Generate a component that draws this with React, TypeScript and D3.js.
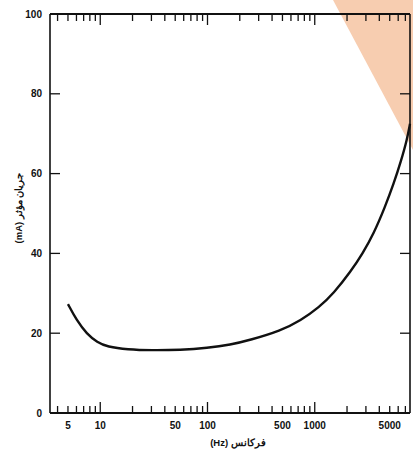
import React, { useEffect, useRef } from 'react';
import * as d3 from 'd3';

// frequency (Hz) and effective current (mA)
const freqs = [5, 6, 7.5, 9.4, 11.6, 18, 30, 56, 100, 164, 250, 480, 740, 1100, 1500, 2170, 2800, 3550, 4500, 5450, 6350, 7250, 7730];
const currents = [27.3, 23.3, 19.8, 17.7, 16.6, 15.9, 15.7, 15.8, 16.3, 17.1, 18.3, 20.6, 23.2, 26.5, 30, 35.5, 40, 45, 51.5, 57.5, 63, 68.5, 72.5];

const xLabels = [5, 10, 50, 100, 500, 1000, 5000];
const yLabels = [0, 20, 40, 60, 80, 100];

export default function App() {
  const ref = useRef<SVGSVGElement>(null);

  useEffect(() => {
    const svg = d3.select(ref.current);
    svg.selectAll('*').remove();

    const left = 50, right = 410, top = 14, bottom = 413;
    const x = d3.scaleLog().domain([3.4, 7730]).range([left, right]);
    const y = d3.scaleLinear().domain([0, 100]).range([bottom, top]);

    svg.append('rect').attr('width', 413).attr('height', 453).attr('fill', '#fff');

    // orange wedge in the top-right corner of the scan
    svg.append('path')
      .attr('d', 'M333,0 L413,0 L413,150 Z')
      .attr('fill', '#f7cdb0');

    const frame = svg.append('g').attr('stroke', '#111').attr('fill', 'none');
    frame.append('line').attr('x1', left).attr('x2', right).attr('y1', top).attr('y2', top).attr('stroke-width', 1.8);
    frame.append('line').attr('x1', left).attr('x2', right).attr('y1', bottom).attr('y2', bottom).attr('stroke-width', 1.8);
    frame.append('line').attr('x1', left).attr('x2', left).attr('y1', top).attr('y2', bottom).attr('stroke-width', 1.6);
    frame.append('line').attr('x1', right).attr('x2', right).attr('y1', top).attr('y2', bottom).attr('stroke-width', 1.6);

    // log minor/major ticks, inward on top and bottom
    const ticks: number[] = [];
    for (let d = 1; d <= 1000; d *= 10) {
      for (let m = 1; m <= 9; m++) {
        const v = m * d;
        if (v >= 3.4 && v <= 7730) ticks.push(v);
      }
    }
    ticks.forEach(v => {
      const len = (v === 10 || v === 100 || v === 1000) ? 11 : 7;
      frame.append('line').attr('x1', x(v)).attr('x2', x(v)).attr('y1', bottom).attr('y2', bottom - len).attr('stroke-width', 1.3);
      frame.append('line').attr('x1', x(v)).attr('x2', x(v)).attr('y1', top).attr('y2', top + len).attr('stroke-width', 1.3);
    });

    yLabels.slice(1, 5).forEach(v => {
      frame.append('line').attr('x1', left).attr('x2', left + 10).attr('y1', y(v)).attr('y2', y(v)).attr('stroke-width', 1.3);
      frame.append('line').attr('x1', right).attr('x2', right - 10).attr('y1', y(v)).attr('y2', y(v)).attr('stroke-width', 1.3);
    });

    const txt = svg.append('g')
      .attr('font-family', 'Liberation Sans, Arial, sans-serif')
      .attr('font-weight', 'bold')
      .attr('font-size', 10)
      .attr('fill', '#111');

    yLabels.forEach(v => {
      txt.append('text').attr('x', 42).attr('y', y(v)).attr('dy', '0.35em').attr('text-anchor', 'end').text(v);
    });
    xLabels.forEach(v => {
      txt.append('text').attr('x', x(v)).attr('y', 429).attr('text-anchor', 'middle').text(v);
    });

    txt.append('text')
      .attr('x', 238).attr('y', 446).attr('text-anchor', 'middle').attr('font-size', 9.5)
      .attr('direction', 'rtl')
      .text('فرکانس (Hz)');

    txt.append('text')
      .attr('transform', 'translate(22,208) rotate(-90)')
      .attr('text-anchor', 'middle').attr('font-size', 9.5)
      .attr('direction', 'rtl')
      .text('جریان مؤثر (mA)');

    const line = d3.line<number>()
      .x((_, i) => x(freqs[i]))
      .y(d => y(d))
      .curve(d3.curveBasis);

    svg.append('path')
      .datum(currents)
      .attr('d', line)
      .attr('fill', 'none')
      .attr('stroke', '#111')
      .attr('stroke-width', 2.4);
  }, []);

  return (
    <svg ref={ref} width={413} height={453} style={{ position: 'absolute', left: 0, top: 0 }} />
  );
}
